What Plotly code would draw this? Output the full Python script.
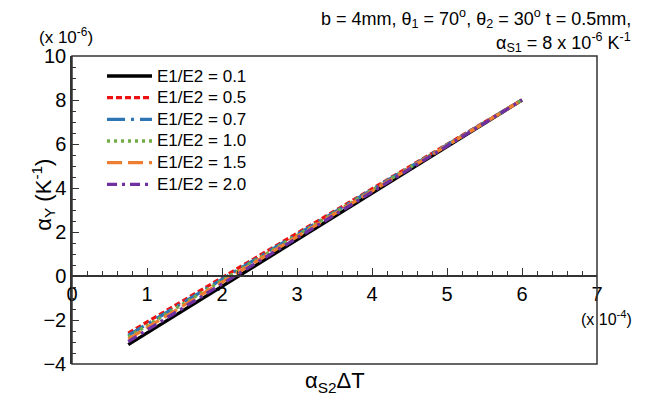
import plotly.graph_objects as go

# alpha_S2 * dT (x 10^-4)
x_vals = [0.75, 1.0, 2.0, 3.0, 4.0, 5.0, 6.0]

# alpha_Y (x 10^-6 K^-1) for each stiffness ratio
ay_01 = [-3.12, -2.59, -0.47, 1.65, 3.76, 5.88, 8.00]
ay_05 = [-2.60, -2.10, -0.08, 1.94, 3.96, 5.98, 8.00]
ay_07 = [-2.70, -2.19, -0.15, 1.89, 3.93, 5.96, 8.00]
ay_10 = [-2.77, -2.26, -0.21, 1.84, 3.90, 5.95, 8.00]
ay_15 = [-2.87, -2.35, -0.28, 1.79, 3.86, 5.93, 8.00]
ay_20 = [-2.98, -2.46, -0.37, 1.72, 3.82, 5.91, 8.00]

series_names = ["E1/E2 = 0.1", "E1/E2 = 0.5", "E1/E2 = 0.7",
                "E1/E2 = 1.0", "E1/E2 = 1.5", "E1/E2 = 2.0"]
series_values = [ay_01, ay_05, ay_07, ay_10, ay_15, ay_20]
colors = ["#000000", "#ee1111", "#2e75b6", "#70ad47", "#ed7d31", "#7030a0"]
dashes = ["solid", "6px,3px", "18px,6px,3px,6px", "3px,4px",
          "15px,6px", "10px,5px,3px,5px"]

FONT = "Arial, Liberation Sans, sans-serif"
axis_col = "#333333"

fig = go.Figure()
for name, vals, col, dash in zip(series_names, series_values, colors, dashes):
    fig.add_trace(go.Scatter(
        x=x_vals, y=vals, name=name, mode="lines",
        line=dict(color=col, width=3.3, dash=dash),
        showlegend=False,
    ))

fig.update_layout(
    width=645, height=399,
    margin=dict(l=72, r=48, t=56, b=35),
    plot_bgcolor="white", paper_bgcolor="white",
    font=dict(family=FONT, color="#000000", size=20),
    xaxis=dict(
        range=[0, 7], dtick=1, tick0=0,
        anchor="free", position=4 / 14,
        showline=True, linecolor=axis_col, linewidth=1.5,
        ticks="inside", ticklen=7, tickcolor=axis_col, tickwidth=1.2,
        minor=dict(dtick=0.2, ticks="inside", ticklen=4,
                   tickcolor=axis_col, tickwidth=1),
        showgrid=False, zeroline=False,
        tickfont=dict(size=20, family=FONT),
    ),
    yaxis=dict(
        range=[-4, 10], dtick=2, tick0=0,
        showline=True, linecolor=axis_col, linewidth=1.5,
        ticks="inside", ticklen=7, tickcolor=axis_col, tickwidth=1.2,
        minor=dict(dtick=0.5, ticks="inside", ticklen=4,
                   tickcolor=axis_col, tickwidth=1),
        showgrid=False, zeroline=False,
        tickfont=dict(size=20, family=FONT),
    ),
)

# plot frame
fig.add_shape(type="rect", xref="x domain", yref="y domain",
              x0=0, x1=1, y0=0, y1=1,
              line=dict(color=axis_col, width=1.5))

# legend: line sample + label per series
leg_top, leg_step = 0.935, 0.0703
for i, (name, col, dash) in enumerate(zip(series_names, colors, dashes)):
    yy = leg_top - i * leg_step
    fig.add_shape(type="line", xref="paper", yref="paper",
                  x0=0.0667, x1=0.1524, y0=yy, y1=yy,
                  line=dict(color=col, width=3.3, dash=dash))
    fig.add_annotation(text=name, x=0.158, y=yy, xref="paper", yref="paper",
                       showarrow=False, xanchor="left", yanchor="middle",
                       font=dict(size=17, family=FONT))

annots = [
    dict(text="α<sub>S2</sub>ΔT", x=0.501, y=-0.058, size=22, angle=0),
    dict(text="α<sub>Y</sub> (K<sup>-1</sup>)", x=-0.055, y=0.55, size=22, angle=-90),
    dict(text="(x 10<sup>-6</sup>)", x=-0.011, y=1.065, size=17, angle=0),
    dict(text="(x 10<sup>-4</sup>)", x=1.019, y=0.149, size=16, angle=0),
]
for a in annots:
    fig.add_annotation(text=a["text"], x=a["x"], y=a["y"], textangle=a["angle"],
                       xref="paper", yref="paper", showarrow=False,
                       xanchor="center", yanchor="middle",
                       font=dict(size=a["size"], family=FONT))

fig.add_annotation(
    text="b = 4mm, θ<sub>1</sub> = 70<sup>o</sup>, θ<sub>2</sub> = 30<sup>o</sup> t = 0.5mm,",
    x=1.069, y=1.123, xref="paper", yref="paper", showarrow=False,
    xanchor="right", yanchor="middle", font=dict(size=18, family=FONT))
fig.add_annotation(
    text="α<sub>S1</sub> = 8 x 10<sup>-6</sup> K<sup>-1</sup>",
    x=1.069, y=1.045, xref="paper", yref="paper", showarrow=False,
    xanchor="right", yanchor="middle", font=dict(size=18, family=FONT))

fig.write_html("out.html")
